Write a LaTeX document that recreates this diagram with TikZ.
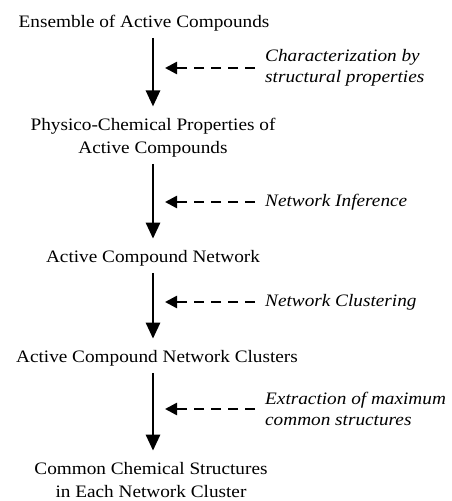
\documentclass[tikz,border=0pt]{standalone}
\usepackage{fontspec}
\setmainfont{Liberation Serif}[FakeStretch=1.1]
\usepackage{tikz}
\usetikzlibrary{arrows.meta, positioning, calc}

\begin{document}
\begin{tikzpicture}[
      x=1pt, y=-1pt,
      stage/.style={inner sep=0pt, anchor=base, align=center, font=\fontsize{17.5}{23}\selectfont},
      note/.style={inner sep=0pt, anchor=west, align=left, font=\fontsize{17.5}{21}\selectfont\itshape},
      flow/.style={-{Triangle[length=16pt, width=14pt]}, line width=2.7pt, shorten <=7pt, shorten >=11pt},
      feed/.style={-{Triangle[length=12pt, width=12pt]}, line width=2.5pt, dash pattern=on 10pt off 7pt, shorten <=10pt}
  ]
      \useasboundingbox (0,0) rectangle (451,501);
      \coordinate (col) at (153,0);

      % Main steps
      \node[stage] (ens) at (144,27) {Ensemble of Active Compounds};
      \node[stage] (phys) at (153,153) {Physico-Chemical Properties of\\Active Compounds};
      \node[stage] (net) at (153,262) {Active Compound Network};
      \node[stage] (clus) at (157,362) {Active Compound Network Clusters};
      \node[stage] (com) at (151,497) {Common Chemical Structures\\in Each Network Cluster};

      % Side notes
      \node[note] (charac) at (265,68) {Characterization by\\structural properties};
      \node[note] (infer) at (265,202) {Network Inference};
      \node[note] (clust) at (265,302) {Network Clustering};
      \node[note] (extr) at (265,409) {Extraction of maximum\\common structures};

      % Tips of the side arrows
      \coordinate (t1) at (165,68);
      \coordinate (t2) at (165,202);
      \coordinate (t3) at (165,302);
      \coordinate (t4) at (165,409);

      % Arrows
      \draw[flow] (ens.south -| col) -- (phys.north -| col);
      \draw[flow] (phys.south -| col) -- (net.north -| col);
      \draw[flow] (net.south -| col) -- (clus.north -| col);
      \draw[flow] (clus.south -| col) -- (com.north -| col);
      \draw[feed] (charac.west) -- (t1);
      \draw[feed] (infer.west) -- (t2);
      \draw[feed] (clust.west) -- (t3);
      \draw[feed] (extr.west) -- (t4);
  \end{tikzpicture}
\end{document}
